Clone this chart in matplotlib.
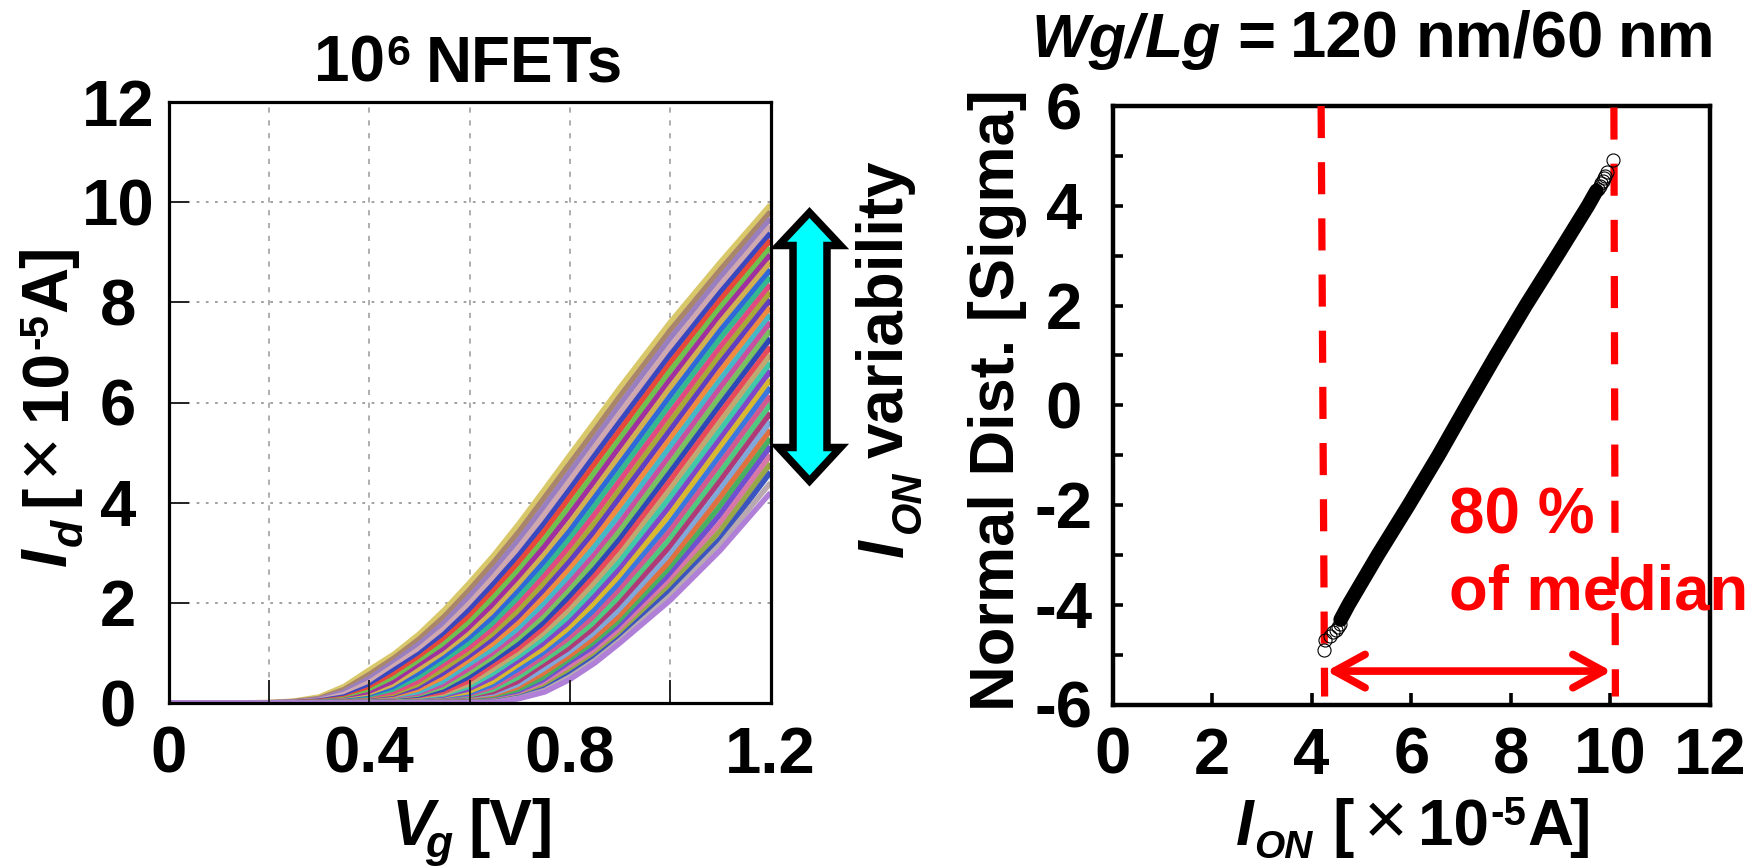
import matplotlib
matplotlib.use("Agg")
import matplotlib.pyplot as plt
import numpy as np
from matplotlib.patches import Polygon
from matplotlib.transforms import Affine2D

plt.rcParams['font.family'] = ['Liberation Sans', 'DejaVu Sans']

W, H = 1762, 867
RED = '#ff0000'

# Left panel: Id (x1e-5 A) at each Vg, one entry per drawn curve (37 curves, top to bottom).
# The individual curves of the original are not legible; these are hand estimates
# spanning the visible upper and lower envelopes of the fan.
vg = [0.0, 0.1, 0.2, 0.25, 0.3, 0.35, 0.4, 0.45, 0.5, 0.55, 0.6, 0.65, 0.7, 0.75, 0.8, 0.85, 0.9, 1.0, 1.1, 1.2]
id_000 = [0.0] * 37
id_010 = [0.0] * 37
id_020 = [.01, .008, .006, .005, .004, .003, .003, .002, .002, .002, .001, .001, .001] + [0.0] * 24
id_025 = [.04, .03, .02, .015, .01, .008, .006, .005, .004, .003, .003, .002, .002, .002, .001, .001, .001] + [0.0] * 20
id_030 = [.12, .09, .07, .05, .04, .03, .02, .015, .01, .008, .006, .005, .004, .003, .003, .002, .002, .002, .001,
          .001, .001] + [0.0] * 16
id_035 = [.33, .27, .22, .17, .12, .09, .07, .05, .04, .03, .02, .015, .01, .008, .006, .005, .004, .003, .003,
          .002, .002, .002, .001, .001, .001] + [0.0] * 12
id_040 = [.66, .57, .49, .41, .33, .27, .22, .17, .12, .09, .07, .05, .04, .03, .02, .015, .01, .008, .006, .005,
          .004, .003, .003, .002, .002, .002, .001, .001, .001] + [0.0] * 8
id_045 = [.98, .90, .82, .74, .66, .57, .49, .41, .33, .27, .22, .17, .12, .09, .07, .05, .04, .03, .02, .015, .01,
          .008, .006, .005, .004, .003, .003, .002, .002, .002, .001, .001, .001] + [0.0] * 4
id_050 = [1.38, 1.28, 1.18, 1.08, .98, .90, .82, .74, .66, .57, .49, .41, .33, .27, .22, .17, .12, .09, .07, .05,
          .04, .03, .02, .015, .01, .008, .006, .005, .004, .003, .003, .002, .002, .002, .001, .001, .001]
id_055 = [1.86, 1.73, 1.61, 1.49, 1.38, 1.28, 1.18, 1.08, .98, .90, .82, .74, .66, .57, .49, .41, .33, .27, .22,
          .17, .12, .09, .07, .05, .04, .03, .02, .015, .01, .008, .006, .005, .004, .003, .003, .002, .002]
id_060 = [2.40, 2.26, 2.13, 1.99, 1.86, 1.73, 1.61, 1.49, 1.38, 1.28, 1.18, 1.08, .98, .90, .82, .74, .66, .57,
          .49, .41, .33, .27, .22, .17, .12, .09, .07, .05, .04, .03, .02, .015, .01, .008, .006, .005, .004]
id_065 = [2.97, 2.83, 2.68, 2.54, 2.40, 2.26, 2.13, 1.99, 1.86, 1.73, 1.61, 1.49, 1.38, 1.28, 1.18, 1.08, .98,
          .90, .82, .74, .66, .57, .49, .41, .33, .27, .22, .17, .12, .09, .07, .05, .04, .03, .02, .015, .01]
id_070 = [3.60, 3.44, 3.28, 3.13, 2.97, 2.83, 2.68, 2.54, 2.40, 2.26, 2.13, 1.99, 1.86, 1.73, 1.61, 1.49, 1.38,
          1.28, 1.18, 1.08, .98, .90, .82, .74, .66, .57, .49, .41, .33, .27, .22, .17, .14, .12, .11, .10, .09]
id_075 = [4.27, 4.11, 3.94, 3.77, 3.60, 3.44, 3.28, 3.13, 2.97, 2.83, 2.68, 2.54, 2.40, 2.26, 2.13, 1.99, 1.86,
          1.73, 1.61, 1.49, 1.38, 1.28, 1.18, 1.08, .98, .90, .82, .74, .66, .57, .49, .41, .36, .32, .28, .25, .22]
id_080 = [4.95, 4.78, 4.61, 4.44, 4.27, 4.11, 3.94, 3.77, 3.60, 3.44, 3.28, 3.13, 2.97, 2.83, 2.68, 2.54, 2.40,
          2.26, 2.13, 1.99, 1.86, 1.73, 1.61, 1.49, 1.38, 1.28, 1.18, 1.08, .98, .90, .82, .76, .70, .63, .57, .52, .47]
id_085 = [5.62, 5.45, 5.28, 5.12, 4.95, 4.78, 4.61, 4.44, 4.27, 4.11, 3.94, 3.77, 3.60, 3.44, 3.28, 3.13, 2.97,
          2.83, 2.68, 2.54, 2.40, 2.26, 2.13, 1.99, 1.86, 1.73, 1.61, 1.49, 1.38, 1.28, 1.18, 1.10, 1.02, .95, .90, .85, .80]
id_090 = [6.30, 6.13, 5.96, 5.79, 5.62, 5.45, 5.28, 5.12, 4.95, 4.78, 4.61, 4.44, 4.27, 4.11, 3.94, 3.77, 3.60,
          3.44, 3.28, 3.13, 2.97, 2.83, 2.68, 2.54, 2.40, 2.26, 2.13, 1.99, 1.86, 1.73, 1.61, 1.52, 1.44, 1.36, 1.30, 1.25, 1.20]
id_100 = [7.60, 7.44, 7.28, 7.11, 6.95, 6.79, 6.63, 6.46, 6.30, 6.13, 5.96, 5.79, 5.62, 5.45, 5.28, 5.12, 4.95,
          4.78, 4.61, 4.44, 4.27, 4.11, 3.94, 3.77, 3.60, 3.44, 3.28, 3.13, 2.97, 2.83, 2.68, 2.56, 2.44, 2.34, 2.24, 2.14, 2.05]
id_110 = [8.80, 8.65, 8.50, 8.35, 8.20, 8.05, 7.90, 7.75, 7.60, 7.44, 7.28, 7.11, 6.95, 6.79, 6.63, 6.46, 6.30,
          6.13, 5.96, 5.79, 5.62, 5.45, 5.28, 5.12, 4.95, 4.78, 4.61, 4.44, 4.27, 4.11, 3.94, 3.77, 3.60, 3.44, 3.28, 3.17, 3.05]
id_120 = [9.95, 9.81, 9.67, 9.52, 9.38, 9.24, 9.09, 8.95, 8.80, 8.65, 8.50, 8.35, 8.20, 8.05, 7.90, 7.75, 7.60,
          7.44, 7.28, 7.11, 6.95, 6.79, 6.63, 6.46, 6.30, 6.13, 5.96, 5.79, 5.62, 5.45, 5.28, 5.12, 4.95, 4.78, 4.61, 4.40, 4.20]
id_columns = [id_000, id_010, id_020, id_025, id_030, id_035, id_040, id_045, id_050, id_055, id_060, id_065,
              id_070, id_075, id_080, id_085, id_090, id_100, id_110, id_120]
curve_colors = ['#d9c86a', '#a9866a', '#9a7fc0', '#d0a8b0', '#3a48c0', '#e8483a', '#70c050', '#a030a0', '#d0b050',
                '#2f68d8', '#35b890', '#e04a80', '#a8a838', '#6040c0', '#f08a40', '#45b8c8', '#c850a0', '#78c060',
                '#2e48b8', '#e84a5a', '#c0a870', '#40c8a8', '#8048c8', '#d8b830', '#3a78e0', '#d05a90', '#50c880',
                '#b03a78', '#80a8d8', '#e07040', '#48b060', '#7050d0', '#d878a8', '#98a848', '#3a55c0', '#b8a8b0',
                '#b080d8']

# Right panel data: normal quantile (sigma) against ION (x1e-5 A).
band_ion = [4.58, 4.74, 5.33, 5.95, 6.55, 7.12, 7.70, 8.30, 8.93, 9.55, 9.72]
band_sigma = [-4.3, -4.0, -3.0, -2.0, -1.0, 0.0, 1.0, 2.0, 3.0, 4.0, 4.3]
tail_ion = [4.25, 4.27, 4.36, 4.42, 4.48, 4.52, 4.56, 9.75, 9.79, 9.82, 9.85, 9.87, 9.90, 9.93, 10.05]
tail_sigma = [-4.91, -4.70, -4.62, -4.55, -4.50, -4.44, -4.38, 4.34, 4.40, 4.45, 4.50, 4.55, 4.60, 4.68, 4.91]
limit_low_x = [4.19, 4.26]
limit_low_y = [6.0, -5.84]
limit_high_x = [10.07, 10.10]
limit_high_y = [5.97, -5.84]
span_x = [4.30, 10.02]
span_sigma = -5.33

PX = Affine2D().scale(1, -1).translate(0, H)
fig = plt.figure(figsize=(W / 100, H / 100), dpi=100, facecolor='white')


def add_axes_px(x0, y0, x1, y1):
    return fig.add_axes([x0 / W, 1 - y1 / H, (x1 - x0) / W, (y1 - y0) / H])


def label(x, y, s, size=46, rot=0, italic=False, color='black', weight='bold', **kw):
    kw.setdefault('ha', 'left')
    kw.setdefault('va', 'baseline')
    return fig.text(x, y, s, transform=PX, fontsize=size, fontweight=weight,
                    fontstyle='italic' if italic else 'normal', rotation=rot,
                    rotation_mode='anchor', color=color, **kw)


# ---------- left panel ----------
ax1 = add_axes_px(168.5, 102, 770.5, 703)
ax1.set_xlim(0, 1.2)
ax1.set_ylim(0, 12)
curves = np.array(id_columns).T
for x in [0.2, 0.4, 0.6, 0.8, 1.0]:
    ax1.axvline(x, color='#999999', lw=1.1, ls=(0, (3.4, 5.0)), zorder=0.5)
for y in [2, 4, 6, 8, 10]:
    ax1.axhline(y, color='#999999', lw=1.3, ls=(0, (1.5, 3.6)), zorder=0.5)
for i, row in enumerate(curves):
    ax1.plot(vg, row, color=curve_colors[i], lw=3.9,
             solid_joinstyle='round', solid_capstyle='butt', zorder=1)
ax1.set_xticks([0.2, 0.4, 0.6, 0.8, 1.0, 0.0, 1.2])
ax1.set_xticklabels(['', '0.4', '', '0.8', '', '0', '1.2'])
ax1.set_yticks([0, 2, 4, 6, 8, 10, 12])
ax1.set_yticklabels(['0', '2', '4', '6', '8', '10', '12'])
ax1.tick_params(axis='x', direction='in', length=16.5, width=1.4, color='#222222', pad=16.5, labelsize=47)
ax1.tick_params(axis='y', direction='in', length=14.4, width=1.4, color='#222222', pad=36.4, labelsize=47)
for t in ax1.get_xticklabels() + ax1.get_yticklabels():
    t.set_fontweight('bold')
for t in ax1.get_yticklabels():
    t.set_horizontalalignment('center')
for s in ax1.spines.values():
    s.set_linewidth(2.3)
    s.set_zorder(5)

# ---------- right panel ----------
ax2 = add_axes_px(1112.5, 106, 1710, 704.5)
ax2.set_xlim(0, 12)
ax2.set_ylim(-6, 6)
ax2.plot(band_ion, band_sigma, color='black', lw=10.4, solid_capstyle='round', zorder=2)
ax2.plot(tail_ion, tail_sigma, ls='none', marker='o', ms=9.4, mfc='none', mec='black', mew=0.8, zorder=4)
for xs, ys in [(limit_low_x, limit_low_y), (limit_high_x, limit_high_y)]:
    ax2.plot(xs, ys, color=RED, lw=5.2, ls=(0, (32 / 7.2, 24 / 7.2)), dash_capstyle='butt', zorder=3)
ax2.annotate('', xy=(span_x[0], span_sigma), xytext=(span_x[1], span_sigma),
             arrowprops=dict(arrowstyle='<->,head_length=22,head_width=12', color=RED, lw=5.5,
                             shrinkA=0, shrinkB=0, mutation_scale=1, capstyle='round'), zorder=3)
ax2.set_xticks([0, 2, 4, 6, 8, 10, 12])
ax2.set_xticklabels(['0', '2', '4', '6', '8', '10', '12'])
ax2.set_yticks([-6, -5, -4, -3, -2, -1, 0, 1, 2, 3, 4, 5, 6])
ax2.set_yticklabels(['-6', '', '-4', '', '-2', '', '0', '', '2', '', '4', '', '6'])
ax2.tick_params(axis='x', direction='in', length=8.6, width=2.6, color='black', pad=16, labelsize=47)
ax2.tick_params(axis='y', direction='in', length=7.4, width=2.6, color='black', pad=35, labelsize=47)
for t in ax2.get_xticklabels() + ax2.get_yticklabels():
    t.set_fontweight('bold')
for t in ax2.get_yticklabels():
    t.set_horizontalalignment('center')
for s in ax2.spines.values():
    s.set_linewidth(3.2)
    s.set_zorder(1.5)

# ---------- double arrow ----------
arrow_path = [(809.5, 212.5), (840.5, 245.5), (827, 245.5), (827, 447.5), (840.5, 447.5), (809.5, 481),
              (778.5, 447.5), (793, 447.5), (793, 245.5), (778.5, 245.5)]
fig.add_artist(Polygon(arrow_path, closed=True, facecolor='#00ffff', edgecolor='black', lw=5.4,
                       joinstyle='miter', transform=PX))

# ---------- left panel text ----------
label(314, 82, '10')
label(386, 65, '6', size=31)
label(426, 82, 'NFETs', size=46)
label(392, 845, 'V', italic=True)
label(425, 857, 'g', size=32, italic=True)
label(468, 845, '[V]')
label(66, 566, 'I', rot=90, italic=True)
label(82, 546, 'd', size=32, rot=90, italic=True)
label(66, 506, '[', rot=90)
label(41, 453, '×', size=54, rot=90, weight='normal', ha='center', va='center')
label(66, 420, '10', rot=90)
label(47, 349, '-5', size=29, rot=90)
label(66, 312, 'A', rot=90)
label(66, 268, ']', rot=90)
label(903, 557, 'I', rot=90, italic=True)
label(920, 533, 'ON', size=30, rot=90, italic=True)
label(903, 458, 'variability', size=45.8, rot=90)

# ---------- right panel text ----------
label(1032, 57, 'Wg', size=44, italic=True)
label(1125, 57, '/', size=44, italic=True)
label(1145, 57, 'Lg', size=45, italic=True)
label(1237, 57, '=', size=47)
label(1290, 57, '120', size=47)
label(1416, 57, 'nm/60', size=47)
label(1618, 57, 'nm', size=47)
label(1014, 711, 'Normal Dist. [Sigma]', size=45.5, rot=90)
label(1236, 845, 'I', italic=True)
label(1254, 858, 'ON', size=28, italic=True)
label(1332, 845, '[')
label(1386, 825, '×', size=54, weight='normal', ha='center', va='center')
label(1418, 845, '10')
label(1490, 825, '-5', size=29)
label(1527, 845, 'A')
label(1569, 845, ']')
label(1449, 533, '80 %', color=RED, size=46)
label(1449, 609, 'of median', color=RED, size=45.6)

fig.savefig('out.png', dpi=100, facecolor='white')
